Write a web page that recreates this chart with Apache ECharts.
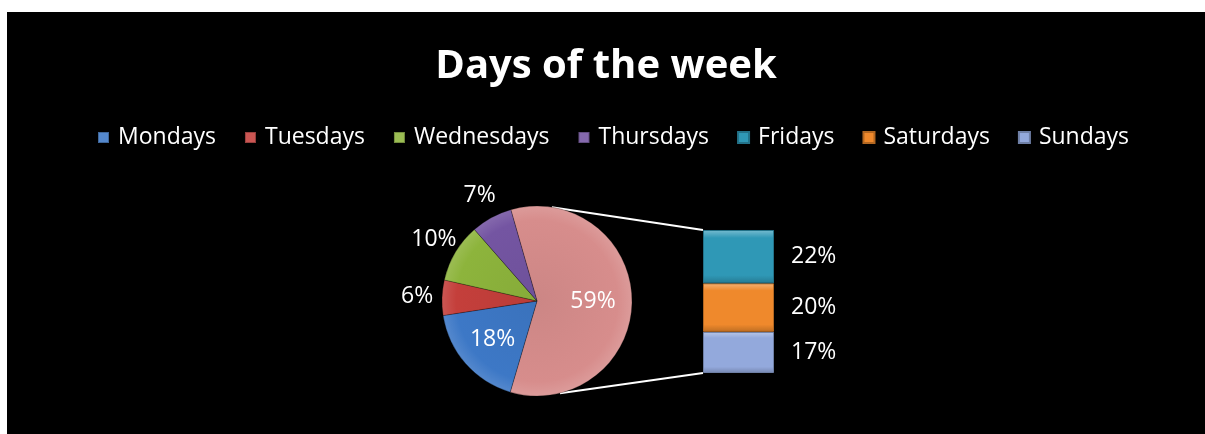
<!DOCTYPE html>
<html lang="en" style="height: 100%">
<head>
    <title>Days of the week</title>
    <meta charset="utf-8">
</head>
<body style="height: 100%; margin: 0; background: #ffffff">
<div id="container" style="position: absolute; left: 7px; top: 12px; width: 1198px; height: 422px"></div>

<script type="text/javascript" src="https://cdn.jsdelivr.net/npm/echarts@6/dist/echarts.min.js"></script>
<script type="text/javascript">
    // data (share of the whole week, in %)
    var pieDays = ['Mondays', 'Tuesdays', 'Wednesdays', 'Thursdays'];
    var pieShares = [18, 6, 10, 7];
    var barDays = ['Fridays', 'Saturdays', 'Sundays'];
    var barShares = [22, 20, 17];
    var otherName = 'Other';

    var colors = {
        Mondays: '#3d78c6',
        Tuesdays: '#c43f3b',
        Wednesdays: '#8db43c',
        Thursdays: '#7455a2',
        Fridays: '#2f98b6',
        Saturdays: '#ef892c',
        Sundays: '#93a9dc',
        Other: '#d78d8c'
    };

    // layout (pixels inside the chart div)
    var PIE_CX = 530, PIE_CY = 289, PIE_R = 95;
    var START_ANGLE = 106;
    var BAR_LEFT = 696, BAR_TOP = 218, BAR_W = 71, BAR_H = 143;
    var LINE_ANGLES = [81, -76]; // where the connector lines leave the pie
    var FONT = "'Open Sans', sans-serif";

    var otherShare = barShares.reduce(function (a, b) { return a + b; }, 0);
    var pieNames = [otherName].concat(pieDays);
    var pieValues = [otherShare].concat(pieShares);
    var pieTotal = pieValues.reduce(function (a, b) { return a + b; }, 0);

    // label radius per slice: big slices inside, small ones outside
    function labelRadius(i) {
        if (i === 0) return 56;
        if (i === 1) return 59;
        return 120;
    }

    function midAngle(i) {
        var before = 0;
        for (var k = 0; k < i; k++) before += pieValues[k];
        var mid = before + pieValues[i] / 2;
        return (START_ANGLE - mid / pieTotal * 360) * Math.PI / 180;
    }

    function lighten(hex, amt) {
        var n = parseInt(hex.slice(1), 16);
        var r = (n >> 16) & 255, g = (n >> 8) & 255, b = n & 255;
        r = Math.round(r + (255 - r) * amt);
        g = Math.round(g + (255 - g) * amt);
        b = Math.round(b + (255 - b) * amt);
        return 'rgb(' + r + ',' + g + ',' + b + ')';
    }

    function darken(hex, amt) {
        var n = parseInt(hex.slice(1), 16);
        var r = (n >> 16) & 255, g = (n >> 8) & 255, b = n & 255;
        return 'rgb(' + Math.round(r * (1 - amt)) + ',' + Math.round(g * (1 - amt)) + ',' + Math.round(b * (1 - amt)) + ')';
    }

    function bevel(hex) {
        return {
            type: 'linear', x: 0, y: 0, x2: 0, y2: 1,
            colorStops: [
                {offset: 0, color: lighten(hex, 0.35)},
                {offset: 0.15, color: hex},
                {offset: 0.85, color: hex},
                {offset: 1, color: darken(hex, 0.2)}
            ]
        };
    }

    var dom = document.getElementById('container');
    var myChart = echarts.init(dom, null, {renderer: 'canvas'});

    var pieData = pieNames.map(function (name, i) {
        return {
            name: name,
            value: pieValues[i],
            itemStyle: {
                color: {
                    type: 'radial', x: PIE_CX, y: PIE_CY, r: PIE_R, global: true,
                    colorStops: [
                        {offset: 0, color: darken(colors[name], 0.05)},
                        {offset: 0.85, color: colors[name]},
                        {offset: 1, color: lighten(colors[name], 0.12)}
                    ]
                }
            }
        };
    });

    var barSeries = barDays.slice().reverse().map(function (name) {
        var i = barDays.indexOf(name);
        return {
            name: name,
            type: 'bar',
            stack: 'other',
            barWidth: '100%',
            data: [barShares[i]],
            color: colors[name],
            itemStyle: {
                color: bevel(colors[name]),
                borderColor: darken(colors[name], 0.25),
                borderWidth: 1
            },
            label: {
                show: true,
                position: 'right',
                distance: 17,
                color: '#ffffff',
                fontFamily: FONT,
                fontSize: 23,
                formatter: '{c}%'
            },
            animation: false
        };
    });

    var p1 = [
        PIE_CX + PIE_R * Math.cos(LINE_ANGLES[0] * Math.PI / 180),
        PIE_CY - PIE_R * Math.sin(LINE_ANGLES[0] * Math.PI / 180)
    ];
    var p2 = [
        PIE_CX + PIE_R * Math.cos(LINE_ANGLES[1] * Math.PI / 180),
        PIE_CY - PIE_R * Math.sin(LINE_ANGLES[1] * Math.PI / 180)
    ];

    var option = {
        backgroundColor: '#000000',
        animation: false,
        title: {
            text: 'Days of the week',
            left: 'center',
            top: 30,
            textStyle: {
                color: '#ffffff',
                fontFamily: FONT,
                fontWeight: 'bold',
                fontSize: 40
            }
        },
        legend: {
            data: pieDays.concat(barDays),
            left: 85,
            top: 109,
            icon: 'rect',
            itemWidth: 11,
            itemHeight: 11,
            itemGap: 28,
            selectedMode: false,
            textStyle: {
                color: '#ffffff',
                fontFamily: FONT,
                fontSize: 23,
                padding: [0, 0, 0, 4]
            }
        },
        grid: {
            left: BAR_LEFT,
            top: BAR_TOP,
            width: BAR_W,
            height: BAR_H
        },
        xAxis: {
            type: 'category',
            data: [otherName],
            show: false
        },
        yAxis: {
            type: 'value',
            min: 0,
            max: otherShare,
            show: false
        },
        graphic: [
            {
                type: 'line',
                shape: {x1: p1[0], y1: p1[1], x2: BAR_LEFT, y2: BAR_TOP},
                style: {stroke: '#ffffff', lineWidth: 2}
            },
            {
                type: 'line',
                shape: {x1: p2[0], y1: p2[1], x2: BAR_LEFT, y2: BAR_TOP + BAR_H},
                style: {stroke: '#ffffff', lineWidth: 2}
            }
        ],
        series: [
            {
                name: 'Week',
                type: 'pie',
                center: [PIE_CX, PIE_CY],
                radius: PIE_R,
                startAngle: START_ANGLE,
                avoidLabelOverlap: false,
                animation: false,
                itemStyle: {
                    borderColor: 'rgba(0,0,0,0.25)',
                    borderWidth: 1
                },
                label: {
                    show: true,
                    position: 'outside',
                    color: '#ffffff',
                    fontFamily: FONT,
                    fontSize: 23,
                    formatter: '{c}%'
                },
                labelLine: {show: false},
                labelLayout: function (params) {
                    var i = params.dataIndex;
                    var a = midAngle(i);
                    var r = labelRadius(i);
                    return {
                        x: PIE_CX + r * Math.cos(a),
                        y: PIE_CY - r * Math.sin(a),
                        align: 'center',
                        verticalAlign: 'middle'
                    };
                },
                data: pieData
            }
        ].concat(barSeries)
    };

    myChart.setOption(option);
    window.addEventListener('resize', myChart.resize);
</script>
</body>
</html>
